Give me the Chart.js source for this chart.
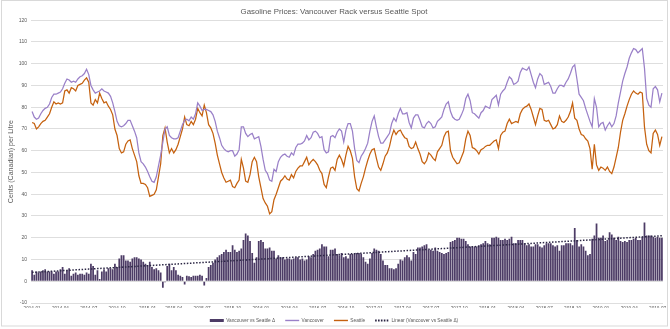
<!DOCTYPE html>
<html>
<head>
<meta charset="utf-8">
<title>Gasoline Prices: Vancouver Rack versus Seattle Spot</title>
<script src="https://cdn.jsdelivr.net/npm/chart.js@4.4.1/dist/chart.umd.min.js"></script>
<style>
  html, body { margin: 0; padding: 0; background: #ffffff; }
  #wrap { width: 670px; height: 329px; position: relative; }
</style>
</head>
<body>
<div id="wrap"><canvas id="chart" width="670" height="329"></canvas></div>
<script>
// Weekly prices, cents (Canadian) per litre, first week of January 2014 onward.
const vancouver = [
  78, 75.5, 74.5, 75, 77, 78.5, 79.5, 80, 81.5, 84.5,
  86, 86, 86.5, 87, 88.5, 91, 93, 92.5, 91.5, 92,
  91.5, 93, 94, 94.5, 95.5, 97.5, 95, 90, 88, 86.5,
  87, 87.5, 88.5, 87.5, 87, 86.5, 85, 82, 78, 73.5,
  71.5, 71, 71.5, 72.5, 74, 74, 71.5, 69, 66, 59,
  55, 54, 52.5, 50.5, 48, 46, 45.5, 48, 53, 58,
  64, 70, 71, 67, 66, 65.5, 65.5, 66, 69, 72,
  74, 74.5, 73.8, 75.5, 74.5, 77, 82, 80.5, 78.5, 79,
  79, 78.5, 78, 76.5, 73.5, 69, 66, 62.5, 61, 60,
  59.5, 60, 60, 57.5, 58.5, 60.5, 71, 71, 68, 66.5,
  67.5, 68, 65.5, 66, 66.5, 62, 56, 51, 49.5, 46.5,
  46, 51.5, 50.5, 55, 57, 58, 58.5, 57.5, 57, 59,
  58, 61.5, 63, 63, 63.5, 64.5, 67, 65, 66, 68.5,
  69, 68, 66, 66.5, 60.5, 59, 59.5, 66.5, 67, 66,
  68.5, 70, 69, 64, 69.5, 72.5, 72.5, 69, 61, 55.5,
  54.5, 57.5, 59, 61, 63.5, 69, 73.5, 76, 71, 66.5,
  63.5, 63.5, 65, 66.5, 68, 72.5, 75, 73.5, 77, 79.5,
  77, 77, 77.5, 73, 70.5, 75, 76.5, 76.5, 74, 71,
  70.5, 72.5, 73.5, 72.5, 70.5, 71, 73.5, 74.5, 75.5, 79,
  81.5, 82.5, 78, 75.5, 74.5, 74, 74.5, 76.5, 79, 84,
  86, 83, 77.5, 77, 76, 75, 77.5, 78.5, 80.5, 80,
  79.5, 83.5, 84.5, 85.5, 81, 86, 87.5, 88.5, 91.5, 94,
  93, 90.5, 91, 92, 96, 98, 97.5, 97, 98.5, 95,
  91.5, 89, 93, 95.5, 94.5, 90.5, 91, 91.5, 89.5, 86.5,
  86.5, 88.5, 90, 90, 89.5, 91.5, 93, 95.5, 98.5, 99.5,
  93, 86, 84.5, 83, 79.5, 76.5, 73.5, 71, 84, 80,
  71, 72.5, 73, 69.5, 71.5, 73, 71, 72.5, 76, 82,
  87, 92, 95.5, 98.5, 102.5, 105, 107, 106.5, 105, 106,
  107, 98, 84, 81, 80, 88.5, 89.5, 88, 82.5, 86.5
];

const seattle = [
  73, 72.5, 70, 71, 72.5, 73.5, 74, 75.5, 77, 80,
  82.5, 81.5, 82, 81.5, 82, 87.5, 88, 86.5, 89, 88.5,
  87.5, 90, 90.5, 91, 92.5, 93.5, 91.5, 82, 81, 83.5,
  82, 86.5, 84, 82, 82.5, 80.5, 79, 76.5, 70, 67,
  61, 59, 59.5, 63, 64.5, 65, 61, 58, 55, 48.5,
  45, 45, 44.5, 43, 39, 39.5, 40, 42, 48, 54,
  67, 70.5, 64, 59, 61, 59, 60.5, 63, 66.5, 70,
  75.5, 72, 71.5, 73.5, 72, 74.5, 79.5, 77.5, 76, 81,
  77.5, 72, 70.5, 68, 63.5, 58, 54, 50, 47.5, 45.5,
  46, 46.5, 43.5, 43, 45, 46.5, 56, 52, 46, 45.5,
  49, 55, 57, 55, 48, 43, 38, 36, 34.5, 31,
  32, 37.5, 40, 43, 46, 47, 48.5, 47, 46.5, 49,
  47.5, 50.5, 52, 53, 53, 55, 57, 53.5, 55, 56,
  55, 53.5, 51, 49.5, 44.5, 43, 48, 52, 52.5, 51,
  56, 58, 56, 53, 58, 62, 60, 56.5, 48, 42.5,
  41.5, 45, 48, 52, 55.5, 58.5, 60.5, 61, 56.5, 52.5,
  51, 54, 57.5, 59, 62, 66.5, 69.5, 67.5, 69, 69.5,
  67.5, 66, 65.5, 62, 61, 61.5, 64, 61, 58.5, 55,
  54, 55.5, 59, 58, 56.5, 55.5, 59.5, 61, 62.5, 66.5,
  68.5, 69, 60, 57, 55.5, 54, 54.5, 57, 59.5, 65.5,
  69, 67, 61.5, 61, 60, 58.5, 60.5, 61, 62, 62.5,
  62.5, 63.5, 64.5, 65, 61, 67, 68.5, 69, 72.5, 74.5,
  72.5, 73, 73.5, 73, 77, 79, 80, 80.5, 81.5, 79,
  75.5, 72, 76, 79.5, 79, 74, 73.5, 74, 72, 70,
  70.5, 72, 76, 73.5, 73, 74, 75.5, 78, 82, 75,
  74, 70, 67.5, 67, 65.5, 64.5, 61, 51.5, 63, 53.5,
  51, 52.5, 52, 51, 52.5, 50.5, 49.5, 52.5, 57, 61.5,
  68.5, 74, 77, 80.5, 83.5, 86, 87.5, 86.5, 86, 87,
  86.5, 71, 63, 60, 59, 68, 69.5, 67.5, 62.5, 66.5
];

// Quarterly labels shown along the time axis.
const tickLabels = [
  '2014-01', '2014-04', '2014-07', '2014-10',
  '2015-01', '2015-04', '2015-07', '2015-10',
  '2016-01', '2016-04', '2016-07', '2016-10',
  '2017-01', '2017-04', '2017-07', '2017-10',
  '2018-01', '2018-04', '2018-07', '2018-10',
  '2019-01', '2019-04', '2019-07'
];

// One category per week, starting 2014-01-01.
const START = Date.UTC(2014, 0, 1);
const weeks = vancouver.map((_, i) => new Date(START + i * 7 * 86400000).toISOString().slice(0, 10));

// Weekly spread: Vancouver rack minus Seattle spot.
const spread = vancouver.map((v, i) => +(v - seattle[i]).toFixed(2));

// Least-squares linear trend of the spread.
const trend = (() => {
  const n = spread.length;
  let sx = 0, sy = 0, sxx = 0, sxy = 0;
  spread.forEach((y, x) => { sx += x; sy += y; sxx += x * x; sxy += x * y; });
  const slope = (n * sxy - sx * sy) / (n * sxx - sx * sx);
  const icpt = (sy - slope * sx) / n;
  return spread.map((_, x) => +(icpt + slope * x).toFixed(3));
})();

// Pick a condensed face if the system has one.
function hasFont(name) {
  const ctx = document.createElement('canvas').getContext('2d');
  const probe = 'Vancouver Rack versus 0123456789';
  ctx.font = '20px monospace';
  const base = ctx.measureText(probe).width;
  ctx.font = '20px "' + name + '", monospace';
  return Math.abs(ctx.measureText(probe).width - base) > 0.5;
}
const NARROW = hasFont('Liberation Sans Narrow');
const FAMILY = NARROW ? '"Liberation Sans Narrow", "Liberation Sans", Arial, sans-serif'
                      : '"Liberation Sans", Arial, sans-serif';
const K = NARROW ? 1 : 0.82;
const TEXT = '#595959';

const C_SPREAD = '#4d3c66';
const C_VAN = '#9a80c8';
const C_SEA = '#c5610f';
const C_TREND = '#2c2745';

// Light frame around the whole chart.
const framePlugin = {
  id: 'frame',
  beforeDraw(chart) {
    const ctx = chart.ctx;
    ctx.save();
    ctx.fillStyle = '#ffffff';
    ctx.fillRect(0, 0, chart.width, chart.height);
    ctx.strokeStyle = '#d9d9d9';
    ctx.lineWidth = 1;
    ctx.strokeRect(1.5, 0.5, 666, 325.5);
    ctx.restore();
  }
};

// Fixed legend band height so the legend sits just above the frame.
const legendBandPlugin = {
  id: 'legendBand',
  afterInit(chart) {
    const lg = chart.legend;
    if (!lg) return;
    const fit = lg.fit;
    lg.fit = function () { fit.call(this); this.height = 17.9; };
  }
};

new Chart(document.getElementById('chart'), {
  type: 'bar',
  data: {
    labels: weeks,
    datasets: [
      {
        type: 'bar',
        label: 'Vancouver vs Seattle \u0394',
        data: spread,
        backgroundColor: C_SPREAD,
        borderWidth: 0,
        barPercentage: 0.8,
        categoryPercentage: 1.0,
        order: 3
      },
      {
        type: 'line',
        label: 'Vancouver',
        data: vancouver,
        borderColor: C_VAN,
        backgroundColor: C_VAN,
        borderWidth: 1.25,
        pointRadius: 0,
        tension: 0,
        fill: false,
        order: 1
      },
      {
        type: 'line',
        label: 'Seattle',
        data: seattle,
        borderColor: C_SEA,
        backgroundColor: C_SEA,
        borderWidth: 1.25,
        pointRadius: 0,
        tension: 0,
        fill: false,
        order: 2
      },
      {
        type: 'line',
        label: 'Linear (Vancouver vs Seattle \u0394)',
        data: trend,
        borderColor: C_TREND,
        backgroundColor: C_TREND,
        borderWidth: 1.5,
        borderDash: [1.5, 1.6],
        pointRadius: 0,
        tension: 0,
        fill: false,
        order: 0
      }
    ]
  },
  options: {
    responsive: false,
    maintainAspectRatio: false,
    devicePixelRatio: 1,
    animation: false,
    events: [],
    layout: { padding: { left: 5, right: 7, top: 0, bottom: 3 } },
    plugins: {
      tooltip: { enabled: false },
      title: {
        display: true,
        text: 'Gasoline Prices: Vancouver Rack versus Seattle Spot',
        color: TEXT,
        font: { family: FAMILY, size: 9.6 * K, weight: 'normal' },
        padding: { top: 6.7, bottom: 4.1 }
      },
      legend: {
        position: 'bottom',
        align: 'center',
        labels: {
          color: TEXT,
          font: { family: FAMILY, size: 5.8 * K },
          usePointStyle: true,
          pointStyleWidth: 14,
          boxHeight: 3,
          padding: 10,
          sort: (a, b) => a.datasetIndex - b.datasetIndex,
          generateLabels(chart) {
            return chart.data.datasets.map((ds, i) => {
              const isLine = ds.type === 'line';
              return {
                text: ds.label,
                datasetIndex: i,
                fillStyle: ds.backgroundColor,
                strokeStyle: isLine ? ds.borderColor : ds.backgroundColor,
                lineWidth: isLine ? (ds.borderDash ? 1.8 : 1.4) : 0,
                lineDash: ds.borderDash ? [1.6, 1.3] : [],
                pointStyle: isLine ? 'line' : 'rect',
                fontColor: TEXT,
                hidden: false
              };
            });
          }
        }
      }
    },
    scales: {
      x: {
        type: 'category',
        offset: true,
        grid: { display: false, drawTicks: false },
        border: { display: false },
        afterFit(scale) { scale.height = 5.1; },
        ticks: {
          autoSkip: false,
          maxRotation: 0,
          minRotation: 0,
          padding: 3,
          color: TEXT,
          font: { family: FAMILY, size: 5.65 * K },
          callback(value, index) {
            const wk = weeks[index];
            const ym = wk.slice(0, 7);
            const first = index === 0 || weeks[index - 1].slice(0, 7) !== ym;
            return first && tickLabels.includes(ym) ? ym : '';
          }
        }
      },
      y: {
        min: -10,
        max: 120,
        grid: { color: '#dedede', lineWidth: 1, drawTicks: false },
        border: { display: false },
        afterFit(scale) { scale.width = 26; },
        ticks: {
          stepSize: 10,
          padding: 4,
          color: TEXT,
          font: { family: FAMILY, size: 6.1 * K }
        },
        title: {
          display: true,
          text: 'Cents (Canadian) per Litre',
          color: TEXT,
          font: { family: FAMILY, size: 8.6 * K },
          padding: { top: 2, bottom: 0 }
        }
      }
    }
  },
  plugins: [framePlugin, legendBandPlugin]
});
</script>
</body>
</html>
